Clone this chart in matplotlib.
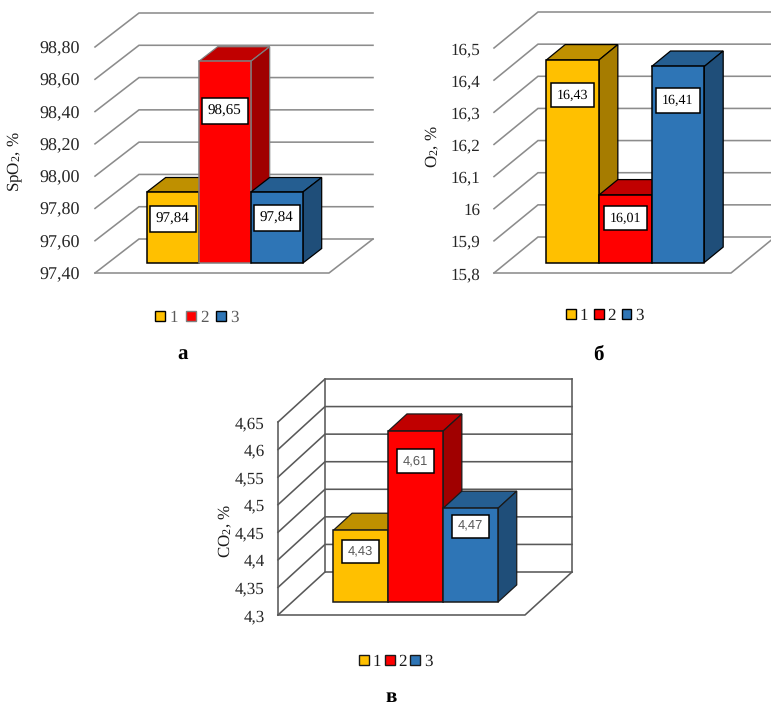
import matplotlib
matplotlib.use("Agg")
import matplotlib.pyplot as plt
from matplotlib.patches import Patch

plt.rcParams["font.family"] = ["Liberation Serif", "DejaVu Serif"]
plt.rcParams["mathtext.fontset"] = "custom"
plt.rcParams["mathtext.rm"] = "Liberation Serif"
plt.rcParams["mathtext.default"] = "rm"
plt.rcParams["text.hinting"] = "no_hinting"
plt.rcParams["text.hinting_factor"] = 1

W, H = 771, 707

groups = ["1", "2", "3"]

spo2_values = [97.84, 98.65, 97.84]
spo2_labels = ["97,84", "98,65", "97,84"]
spo2_ticks = [97.4, 97.6, 97.8, 98.0, 98.2, 98.4, 98.6, 98.8]
spo2_ticklabels = ["97,40", "97,60", "97,80", "98,00", "98,20", "98,40", "98,60", "98,80"]

o2_values = [16.43, 16.01, 16.41]
o2_labels = ["16,43", "16,01", "16,41"]
o2_ticks = [15.8, 15.9, 16.0, 16.1, 16.2, 16.3, 16.4, 16.5]
o2_ticklabels = ["15,8", "15,9", "16", "16,1", "16,2", "16,3", "16,4", "16,5"]

co2_values = [4.43, 4.61, 4.47]
co2_labels = ["4,43", "4,61", "4,47"]
co2_ticks = [4.3, 4.35, 4.4, 4.45, 4.5, 4.55, 4.6, 4.65]
co2_ticklabels = ["4,3", "4,35", "4,4", "4,45", "4,5", "4,55", "4,6", "4,65"]

FRONT = ["#FFC000", "#FF0000", "#2E75B6"]
TOP = ["#BF9000", "#C00000", "#255E91"]
SIDE = ["#A67C00", "#A00000", "#1F4E79"]

fig = plt.figure(figsize=(W / 100, H / 100), dpi=100)


def panel(box, depth, values, labels, ticks, ticklabels, drops, edges, grid,
          tick_fs, tick_pad, label_font, walls=False, t0=0.29, t1=0.72):
    left, right, bottom, top = box
    ax = fig.add_axes([left / W, (H - bottom) / H, (right - left) / W, (bottom - top) / H])
    ax.patch.set_visible(False)
    x0, x1 = -1.25, 3.25
    y0, y1 = ticks[0], ticks[-1]
    ax.set_xlim(x0, x1)
    ax.set_ylim(y0, y1)
    dx = depth[0] * (x1 - x0) / (right - left)
    dy = depth[1] * (y1 - y0) / (bottom - top)

    # Receding gridlines on the side wall and along the back wall
    for v in ticks:
        ax.plot([x0, x0 + dx, x1 + dx], [v, v + dy, v + dy], color=grid, lw=1.15,
                clip_on=False, zorder=1, solid_joinstyle="miter")
    # Floor outline
    ax.plot([x0, x1, x1 + dx], [y0, y0, y0 + dy], color=grid, lw=1.15, clip_on=False, zorder=1)
    if walls:
        ax.plot([x0, x0], [y0, y1], color=grid, lw=1.15, clip_on=False, zorder=1)
        ax.plot([x0 + dx, x0 + dx], [y0 + dy, y1 + dy], color=grid, lw=1.15, clip_on=False, zorder=1)
        ax.plot([x1 + dx, x1 + dx], [y0 + dy, y1 + dy], color=grid, lw=1.15, clip_on=False, zorder=1)

    # Boxes are painted left to right so nearer faces cover the previous bar
    ox, oy = t0 * dx, t0 * dy
    bx, by = (t1 - t0) * dx, (t1 - t0) * dy
    for i, v in enumerate(values):
        z = 3 + i * 3
        xl, xr = i - 0.5 + ox, i + 0.5 + ox
        yb, yt = y0 + oy, v + oy
        ax.fill([xl, xr, xr + bx, xl + bx], [yt, yt, yt + by, yt + by], facecolor=TOP[i],
                edgecolor=edges[i], lw=0.9, clip_on=False, zorder=z)
        ax.fill([xr, xr + bx, xr + bx, xr], [yb, yb + by, yt + by, yt], facecolor=SIDE[i],
                edgecolor=edges[i], lw=0.9, clip_on=False, zorder=z + 1)
        ax.bar(i + ox, v - y0, bottom=yb, width=1, color=FRONT[i], edgecolor=edges[i],
               lw=1.1, clip_on=False, zorder=z + 2)
        ax.annotate(labels[i], (i + ox, yt), xytext=(0, -drops[i] * 0.72), textcoords="offset points",
                    ha="center", va="center", zorder=30, annotation_clip=False,
                    bbox=dict(boxstyle="square,pad=0.42", fc="white", ec="black", lw=1.1),
                    **label_font)

    ax.set_xticks([])
    ax.set_yticks(ticks, ticklabels)
    ax.tick_params(axis="y", length=0, pad=tick_pad, labelsize=tick_fs, labelcolor="#262626")
    for s in ax.spines.values():
        s.set_visible(False)
    return ax


def legend(ax, cx, cy, edges, fs, color, spacing):
    handles = [Patch(facecolor=FRONT[i], edgecolor=edges[i], lw=1.0) for i in range(3)]
    ax.legend(handles, groups, ncol=3, loc="center", frameon=False, fontsize=fs,
              bbox_to_anchor=(cx / W, (H - cy) / H), bbox_transform=fig.transFigure,
              handlelength=0.58, handleheight=0.58, handletextpad=0.25, columnspacing=spacing,
              borderpad=0, borderaxespad=0, labelcolor=color)


serif_label = dict(fontsize=10.7, family="Liberation Serif", color="black")
serif_label_b = dict(fontsize=10.0, family="Liberation Serif", color="black")
sans_label = dict(fontsize=9.6, family="Liberation Sans", color="#595959")

ax_a = panel((95, 329, 273, 47), (44, 34), spo2_values, spo2_labels, spo2_ticks, spo2_ticklabels,
             [27, 50, 26], ["black", "#7F7F7F", "black"], "#8C8C8C", 12.8, 10.5, serif_label)
legend(ax_a, 197, 318, ["black", "#7F7F7F", "black"], 12.5, "#595959", 0.45)

ax_b = panel((494, 731, 273, 48), (44, 36), o2_values, o2_labels, o2_ticks, o2_ticklabels,
             [35, 23, 34], ["black", "black", "black"], "#8C8C8C", 12, 10, serif_label_b)
legend(ax_b, 605, 316, ["black", "black", "black"], 12, "#1A1A1A", 0.33)

ax_c = panel((278, 525, 615, 422), (47, 43), co2_values, co2_labels, co2_ticks, co2_ticklabels,
             [21, 30, 18], ["#1A1A1A", "#1A1A1A", "#1A1A1A"], "#595959", 12, 9.5, sans_label,
             walls=True, t0=0.3, t1=0.7)
legend(ax_c, 396, 662, ["#1A1A1A", "#1A1A1A", "#1A1A1A"], 12, "#1A1A1A", 0.2)

# Axis titles
for px, py, txt in [(15, 162, "SpO$_2$, %"), (432, 147, "O$_2$, %"), (225, 531, "CO$_2$, %")]:
    fig.text(px / W, (H - py) / H, txt, rotation=90, ha="center", va="center",
             fontsize=12.5, color="#1A1A1A")

# Panel letters
for px, py, txt in [(183, 360, "а"), (598, 360, "б"), (391, 702, "в")]:
    fig.text(px / W, (H - py) / H, txt, ha="center", va="baseline", fontsize=15,
             fontweight="bold", color="black")

fig.savefig("out.png", dpi=100)
